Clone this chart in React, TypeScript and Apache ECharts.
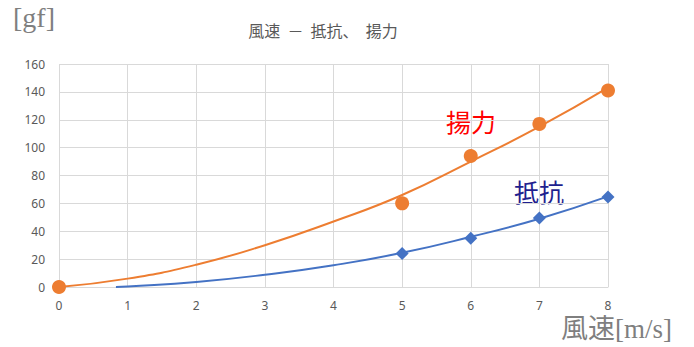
import React, { useEffect, useRef } from "react";
import * as echarts from "echarts";

const xTicks = [0, 1, 2, 3, 4, 5, 6, 7, 8];
const liftX = [0, 5, 6, 7, 8];
const liftY = [0, 60, 94, 117, 141];
const dragX = [5, 6, 7, 8];
const dragY = [24, 35, 49.5, 64.5];
const liftTrendX = [0, 1, 2, 3, 4, 5, 6, 7, 8];
const liftTrendY = [0, 6, 16, 30, 47, 66, 90, 115, 143];
const dragTrendX = [0.83, 1, 2, 3, 4, 5, 6, 7, 8];
const dragTrendY = [0, 0.4, 3.6, 8.8, 15.6, 24.5, 36, 49, 65];

const ORANGE = "#ED7D31";
const BLUE = "#4472C4";
const GRAY = "#595959";

export default function App() {
  const ref = useRef<HTMLDivElement>(null);
  useEffect(() => {
    const chart = echarts.init(ref.current!, null, { renderer: "svg" });
    chart.setOption({
      animation: false,
      backgroundColor: "#ffffff",
      title: {
        text: "風速  －  抵抗、  揚力",
        left: 318,
        top: 17,
        textAlign: "center",
        textStyle: { color: GRAY, fontSize: 16, fontWeight: "normal", fontFamily: "Noto Sans CJK JP" },
      },
      grid: { left: 59, right: 86, top: 64, bottom: 60 },
      xAxis: {
        type: "value",
        min: 0,
        max: 8,
        interval: 1,
        axisLine: { show: true, lineStyle: { color: "#d9d9d9" } },
        axisTick: { show: false },
        axisLabel: { color: GRAY, fontSize: 12, margin: 12, fontFamily: "Noto Sans", formatter: (v: number) => (xTicks.includes(v) ? String(v) : "") },
        splitLine: { show: true, lineStyle: { color: "#d9d9d9" } },
      },
      yAxis: {
        type: "value",
        min: 0,
        max: 160,
        interval: 20,
        axisLine: { show: false },
        axisTick: { show: false },
        axisLabel: { color: GRAY, fontSize: 12, margin: 14, fontFamily: "Noto Sans" },
        splitLine: { show: true, lineStyle: { color: "#d9d9d9" } },
      },
      series: [
        {
          type: "line",
          smooth: true,
          showSymbol: false,
          data: liftTrendX.map((x, i) => [x, liftTrendY[i]]),
          lineStyle: { color: ORANGE, width: 2 },
          z: 2,
        },
        {
          type: "line",
          smooth: true,
          showSymbol: false,
          data: dragTrendX.map((x, i) => [x, dragTrendY[i]]),
          lineStyle: { color: BLUE, width: 2 },
          z: 2,
        },
        {
          type: "scatter",
          symbol: "circle",
          symbolSize: 14,
          data: liftX.map((x, i) => [x, liftY[i]]),
          itemStyle: { color: ORANGE, opacity: 1 },
          z: 3,
        },
        {
          type: "scatter",
          symbol: "diamond",
          symbolSize: 13,
          data: dragX.map((x, i) => [x, dragY[i]]),
          itemStyle: { color: BLUE, opacity: 1 },
          z: 3,
        },
      ],
      graphic: [
        {
          type: "text",
          left: 13,
          top: 3,
          style: { text: "[gf]", fill: "#7f7f7f", fontSize: 28, fontFamily: "Liberation Serif" },
        },
        {
          type: "text",
          left: 561,
          top: 315,
          style: { text: "風速[m/s]", fill: "#7f7f7f", fontSize: 27, fontFamily: "Liberation Serif, Noto Sans CJK JP" },
        },
        {
          type: "text",
          left: 446,
          top: 108,
          style: { text: "揚力", fill: "#ff0000", fontSize: 25, fontFamily: "Noto Sans CJK JP" },
        },
        {
          type: "text",
          left: 514,
          top: 178,
          style: { text: "抵抗", fill: "#1f1f8f", fontSize: 25, fontFamily: "Noto Sans CJK JP" },
        },
      ],
    });
    return () => chart.dispose();
  }, []);
  return <div ref={ref} style={{ width: 694, height: 347, position: "absolute", left: 0, top: 0 }} />;
}
